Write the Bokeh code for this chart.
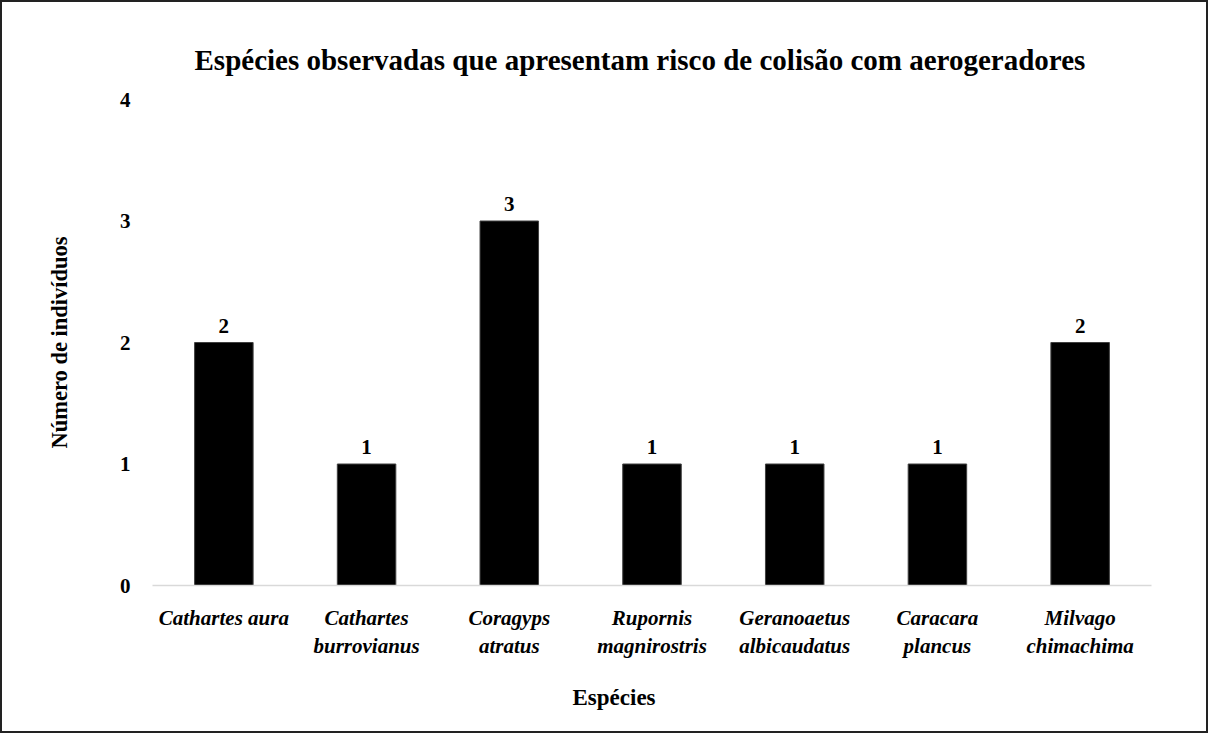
from bokeh.plotting import figure
from bokeh.models import FixedTicker, Range1d, ColumnDataSource, LabelSet, Title
from bokeh.embed import file_html
from bokeh.resources import INLINE

species = ["Cathartes aura", "Cathartes\nburrovianus", "Coragyps\natratus",
           "Rupornis\nmagnirostris", "Geranoaetus\nalbicaudatus", "Caracara\nplancus",
           "Milvago\nchimachima"]
counts = [2, 1, 3, 1, 1, 1, 2]
y_ticks = [0, 1, 2, 3, 4]

FONT = "Liberation Serif"

src = ColumnDataSource(dict(x=species, top=counts, label=[str(c) for c in counts]))

p = figure(x_range=species, y_range=Range1d(0, 4),
           frame_width=999, frame_height=486,
           min_border_left=150, min_border_right=55, min_border_top=97, min_border_bottom=144,
           output_backend="svg", toolbar_location=None,
           title="Espécies observadas que apresentam risco de colisão com aerogeradores")
p.styles = {"border": "2px solid #222"}

p.vbar(x="x", top="top", width=0.41, source=src, fill_color="black", line_color="#404040")

labels = LabelSet(x="x", y="top", text="label", source=src, text_align="center",
                  text_baseline="bottom", y_offset=10, text_font=FONT,
                  text_font_style="bold", text_font_size="21px", text_color="black")
p.add_layout(labels)

p.title.align = "left"
p.title.text_font = FONT
p.title.text_font_size = "29px"
p.title.text_font_style = "bold"
p.title.text_color = "black"
p.title.standoff = 47
p.title.offset = 42

p.outline_line_color = None
p.xgrid.grid_line_color = None
p.ygrid.grid_line_color = None

p.yaxis.ticker = FixedTicker(ticks=y_ticks)
p.yaxis.axis_line_color = None
p.yaxis.major_tick_line_color = None
p.yaxis.minor_tick_line_color = None
p.yaxis.major_label_standoff = 16
p.yaxis.major_label_text_font = FONT
p.yaxis.major_label_text_font_style = "bold"
p.yaxis.major_label_text_font_size = "21px"
p.yaxis.major_label_text_color = "black"
p.yaxis.axis_label = "Número de indivíduos"
p.yaxis.axis_label_text_font = FONT
p.yaxis.axis_label_text_font_style = "bold"
p.yaxis.axis_label_text_font_size = "22.5px"
p.yaxis.axis_label_text_color = "black"
p.yaxis.axis_label_standoff = 45

p.xaxis.axis_line_color = "#d9d9d9"
p.xaxis.axis_line_width = 1.5
p.xaxis.major_tick_line_color = None
p.xaxis.minor_tick_line_color = None
p.xaxis.major_label_standoff = 14
p.xaxis.major_label_text_font = FONT
p.xaxis.major_label_text_font_style = "bold italic"
p.xaxis.major_label_text_font_size = "21px"
p.xaxis.major_label_text_color = "black"

xlabel = Title(text="Espécies", align="left", offset=420, standoff=43,
               text_font=FONT, text_font_style="bold", text_font_size="23px",
               text_color="black")
p.add_layout(xlabel, "below")

open("out.html", "w").write(file_html(p, INLINE))
